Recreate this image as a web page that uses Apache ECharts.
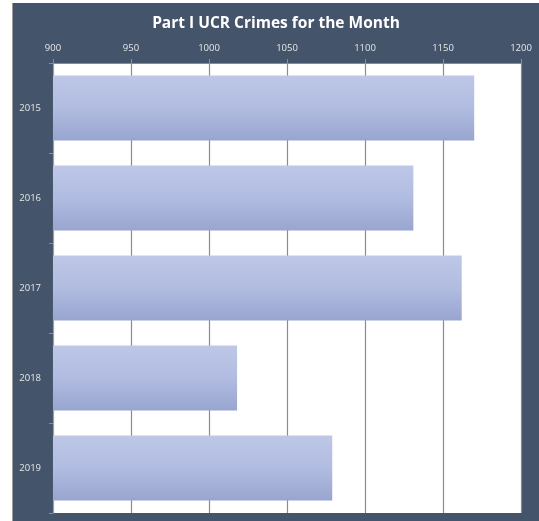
<!DOCTYPE html>
<html>
<head>
<meta charset="utf-8">
<script src="https://cdn.jsdelivr.net/npm/echarts@6/dist/echarts.min.js"></script>
<style>
html,body{margin:0;padding:0;background:#fff;width:539px;height:521px;overflow:hidden;}
#wrap{position:absolute;left:12px;top:3px;width:527px;height:518px;background:#44546a;border-left:1px solid #9a9a9a;box-sizing:border-box;}
#chart{position:absolute;left:0;top:0;width:526px;height:518px;}
</style>
</head>
<body>
<div id="wrap"><div id="chart"></div></div>
<script>
const titleText = 'Part I UCR Crimes for the Month';
const years = ['2015', '2016', '2017', '2018', '2019'];
const crimes = [1170, 1131, 1162, 1018, 1079];
const xMin = 900, xMax = 1200, xStep = 50;

const chart = echarts.init(document.getElementById('chart'), null, {renderer: 'canvas'});
chart.setOption({
  backgroundColor: 'transparent',
  animation: false,
  title: {
    text: titleText,
    left: 'center',
    top: 8,
    textStyle: {color: '#ffffff', fontFamily: 'Open Sans', fontWeight: 'bold', fontSize: 15.5}
  },
  grid: {
    left: 40, right: 18, top: 60, bottom: 8,
    show: true, backgroundColor: '#ffffff', borderColor: '#b0b0b0', borderWidth: 0
  },
  xAxis: {
    type: 'value', position: 'top', min: xMin, max: xMax, interval: xStep,
    axisLine: {show: true, lineStyle: {color: '#8c8c8c'}},
    axisTick: {show: true, length: 4, lineStyle: {color: '#8c8c8c'}},
    axisLabel: {color: '#e8e8e8', fontFamily: 'Open Sans', fontSize: 9.5, margin: 10,
      formatter: function (v) { return String(v); }},
    splitLine: {show: true, lineStyle: {color: '#8c8c8c', width: 1.2}}
  },
  yAxis: {
    type: 'category', data: years, inverse: true,
    axisLine: {show: true, lineStyle: {color: '#a0a0a0'}},
    axisTick: {show: true, length: 4, lineStyle: {color: '#8c8c8c'}},
    axisLabel: {color: '#e8e8e8', fontFamily: 'Open Sans', fontSize: 9.5, margin: 12},
    splitLine: {show: false}
  },
  series: [{
    type: 'bar',
    data: crimes,
    barCategoryGap: '28%',
    itemStyle: {
      color: new echarts.graphic.LinearGradient(0, 0, 0, 1, [
        {offset: 0, color: '#bec7e6'},
        {offset: 0.5, color: '#b1bce1'},
        {offset: 1, color: '#98a5cf'}
      ])
    }
  }]
});
</script>
</body>
</html>
